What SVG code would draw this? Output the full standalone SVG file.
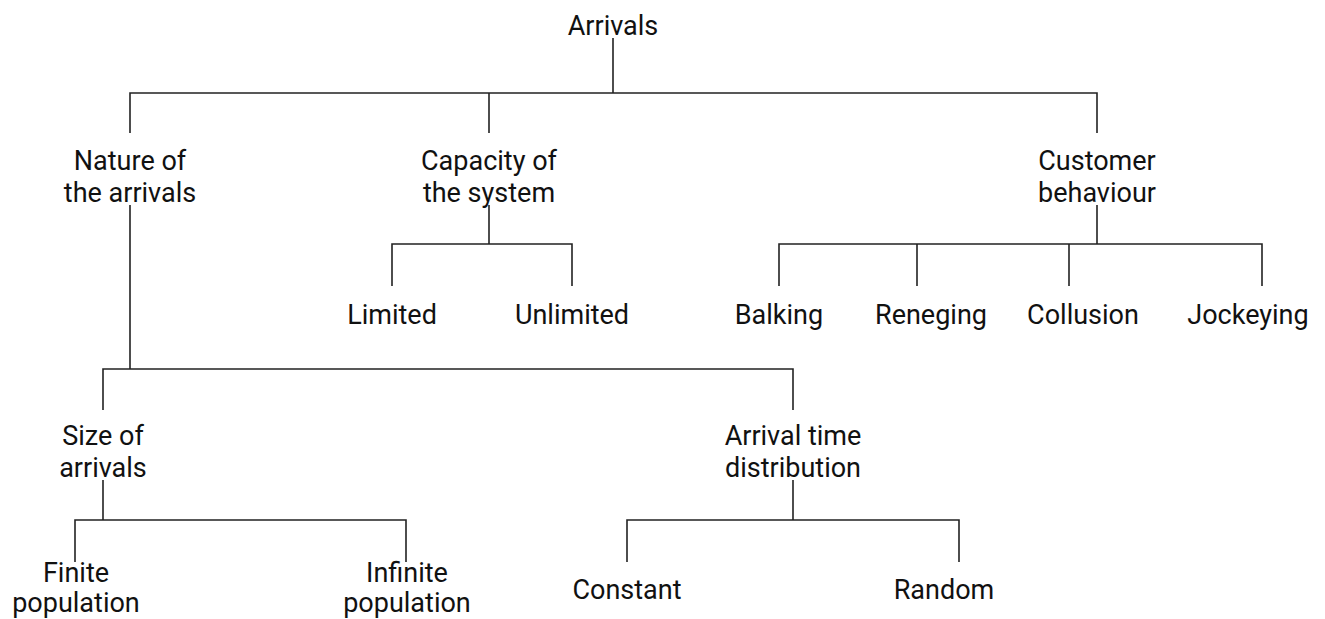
<svg xmlns="http://www.w3.org/2000/svg" width="1325" height="619" viewBox="0 0 1325 619">
<style>
text{font-family:Roboto,"Liberation Sans",sans-serif;font-size:27px;fill:#111;text-anchor:middle}
.c{fill:none;stroke:#222;stroke-width:1.6}
</style>
<rect width="1325" height="619" fill="#fff"/>
<g id="connectors">
<path class="c" d="M613 38V93M130 133V93H1097V133M489 93V133"/>
<path class="c" d="M489 205V244M392 286V244H572V286"/>
<path class="c" d="M1097 205V244M779 286V244H1262V286M917 244V286M1069 244V286"/>
<path class="c" d="M130 205V369M103 410V369H793V410"/>
<path class="c" d="M103 480V520M75 562V520H406V562"/>
<path class="c" d="M793 480V520M627 562V520H959V562"/>
</g>
<g id="arrivals"><text x="613" y="35">Arrivals</text></g>
<g id="nature"><text x="130" y="170">Nature of</text><text x="130" y="202">the arrivals</text></g>
<g id="capacity"><text x="489" y="170">Capacity of</text><text x="489" y="202">the system</text></g>
<g id="customer"><text x="1097" y="170">Customer</text><text x="1097" y="202">behaviour</text></g>
<g id="limited"><text x="392" y="324">Limited</text></g>
<g id="unlimited"><text x="572" y="324">Unlimited</text></g>
<g id="balking"><text x="779" y="324">Balking</text></g>
<g id="reneging"><text x="931" y="324">Reneging</text></g>
<g id="collusion"><text x="1083" y="324">Collusion</text></g>
<g id="jockeying"><text x="1248" y="324">Jockeying</text></g>
<g id="size"><text x="103" y="445">Size of</text><text x="103" y="477">arrivals</text></g>
<g id="arrivaltime"><text x="793" y="445">Arrival time</text><text x="793" y="477">distribution</text></g>
<g id="finite"><text x="76" y="582">Finite</text><text x="76" y="612">population</text></g>
<g id="infinite"><text x="407" y="582">Infinite</text><text x="407" y="612">population</text></g>
<g id="constant"><text x="627" y="599">Constant</text></g>
<g id="random"><text x="944" y="599">Random</text></g>
</svg>
